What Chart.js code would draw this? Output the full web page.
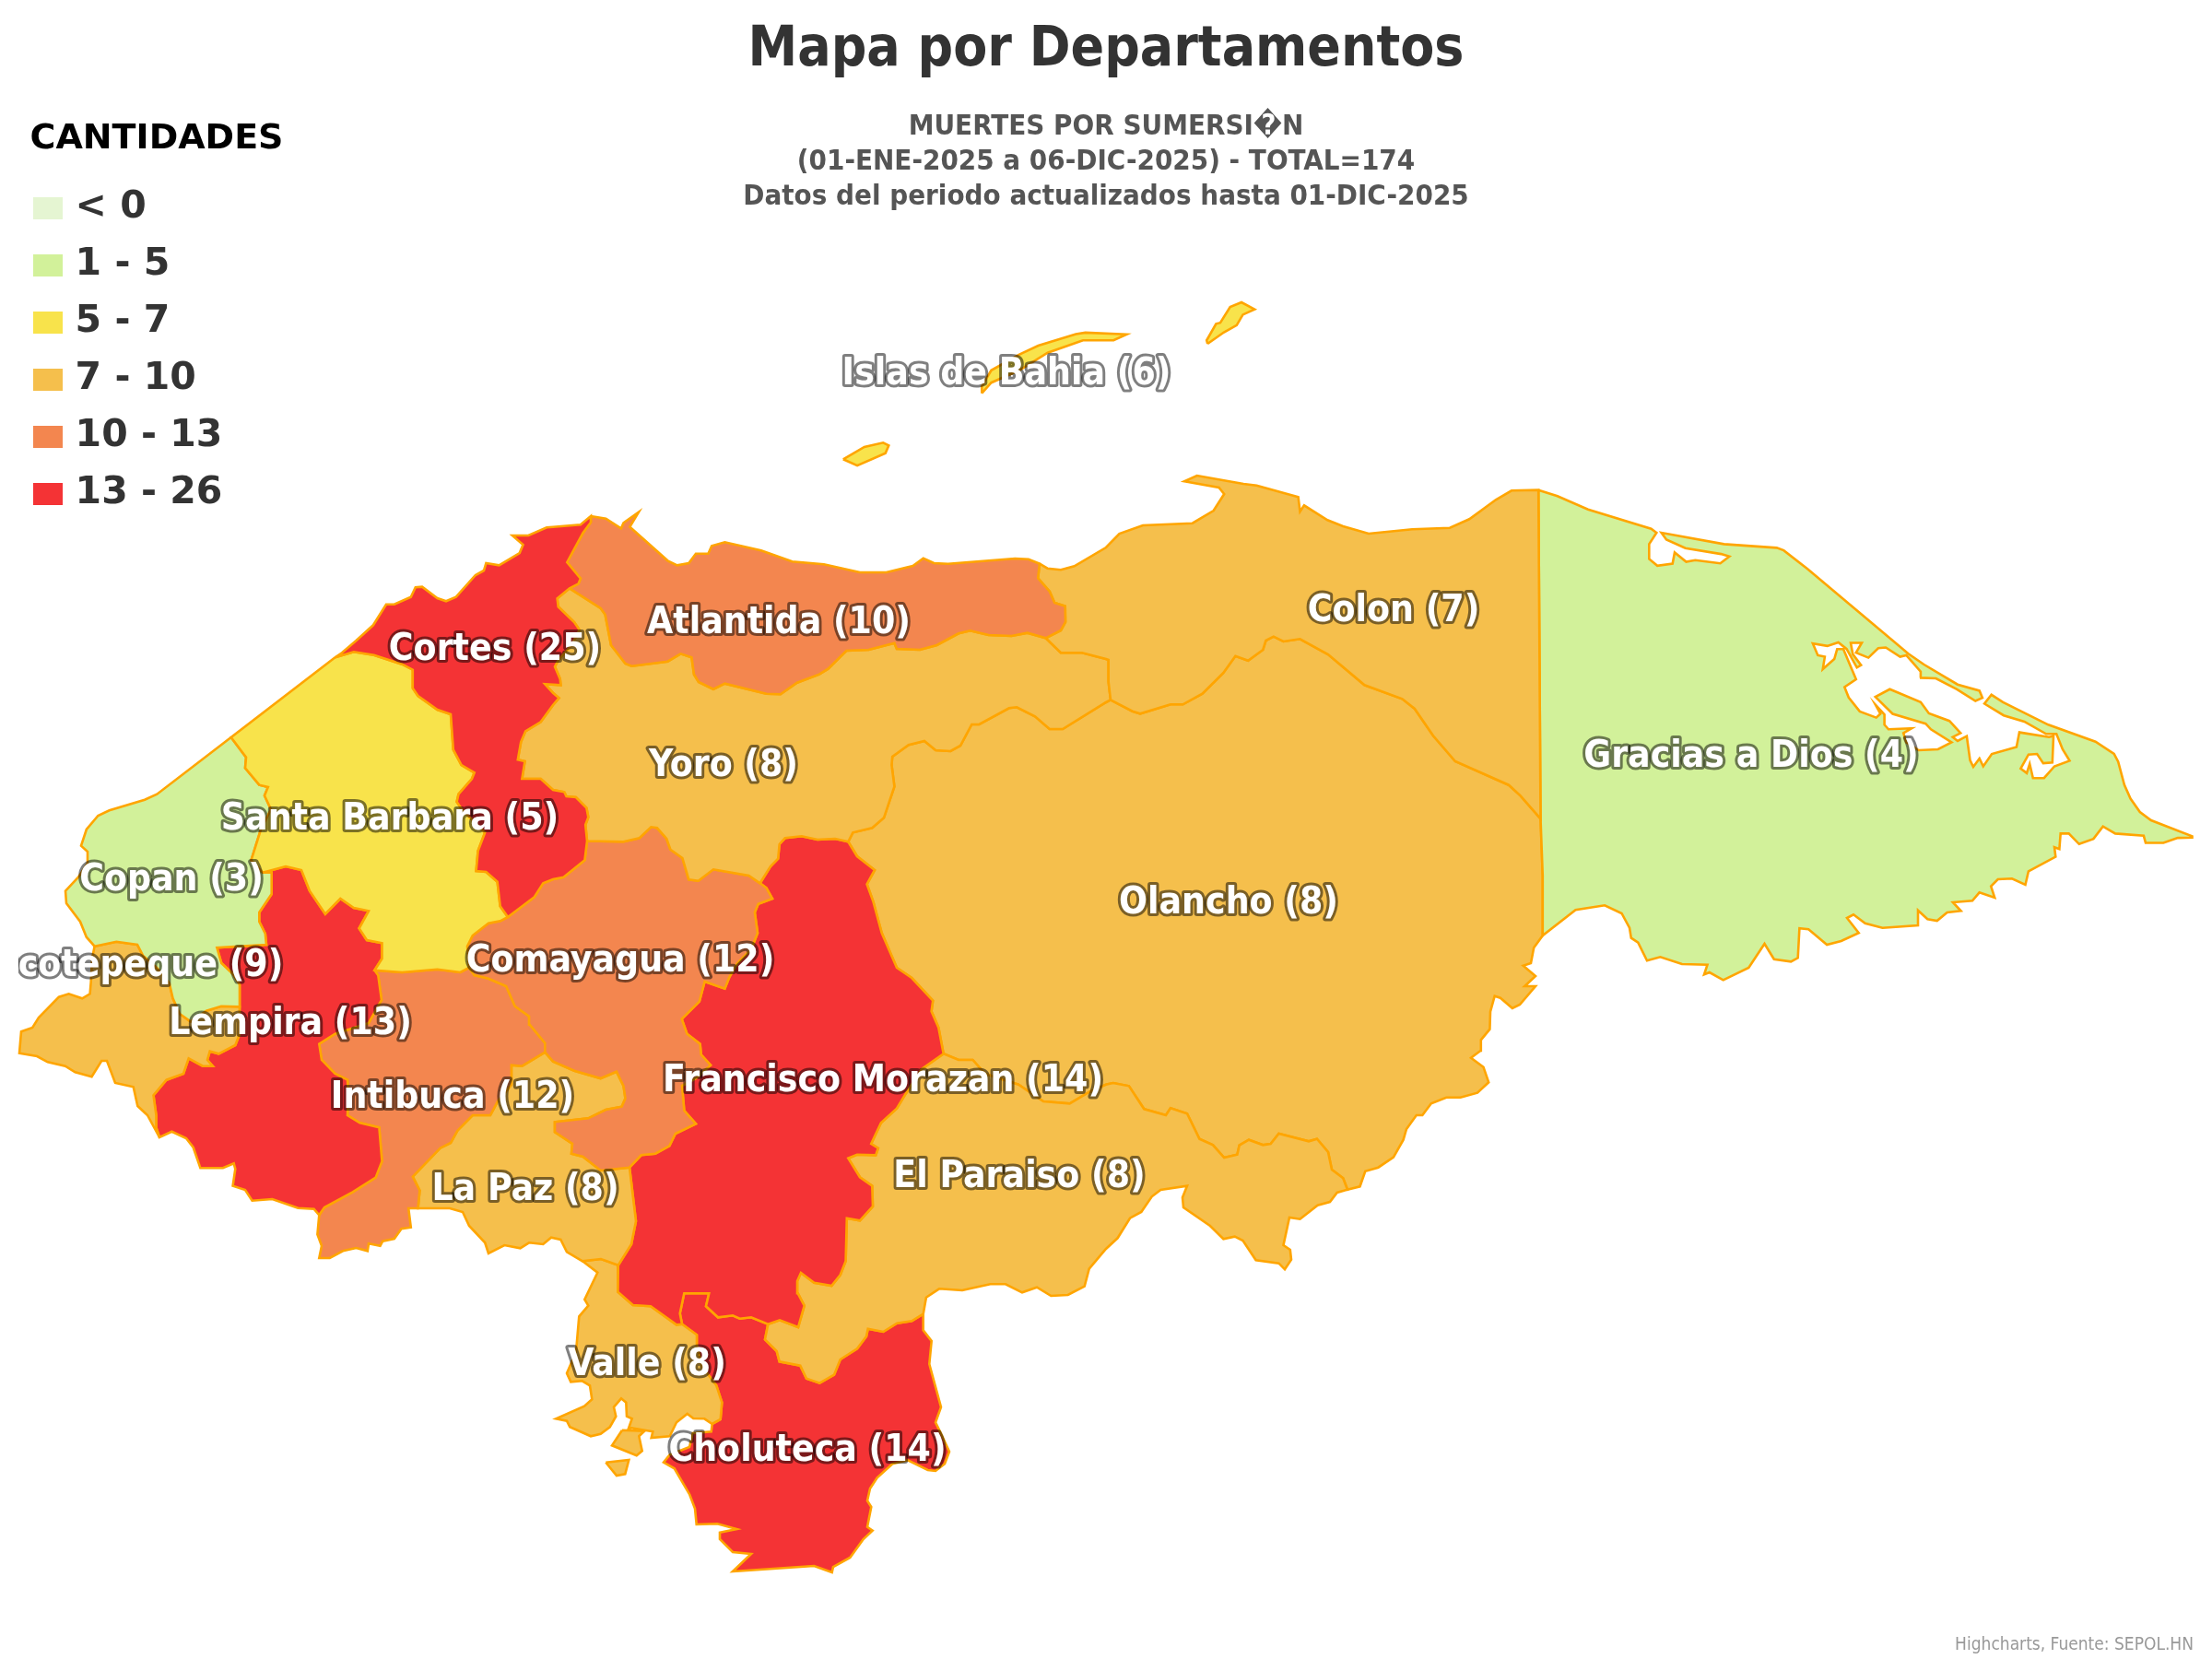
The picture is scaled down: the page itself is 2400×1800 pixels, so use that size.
<!DOCTYPE html>
<html>
<head>
<meta charset="utf-8">
<title>Mapa por Departamentos</title>
<script src="https://cdn.jsdelivr.net/npm/chart.js@4"></script>
<style>
    html, body { margin: 0; padding: 0; background: #fff; }
    canvas { display: block; }
</style>
</head>
<body>
<canvas id="myChart" width="2400" height="1800"></canvas>
<script>
// map values
const departments = ['Islas de Bahia', 'Cortes', 'Atlantida', 'Colon', 'Yoro', 'Gracias a Dios', 'Santa Barbara', 'Copan', 'Ocotepeque', 'Lempira', 'Comayagua', 'Intibuca', 'La Paz', 'Francisco Morazan', 'El Paraiso', 'Olancho', 'Valle', 'Choluteca'];
const counts = [6, 25, 10, 7, 8, 4, 5, 3, 9, 13, 12, 12, 8, 14, 8, 8, 8, 14];
const labelX = [1092, 537, 845, 1512, 785, 1900, 423, 186, 148, 315, 673, 491, 570, 958, 1106, 1333, 702, 876];
const labelY = [406, 705, 676, 663, 831, 821, 889, 955, 1048, 1111, 1043, 1191, 1291, 1173, 1277, 980, 1481, 1574];

const rangeLabels = ['< 0', '1 - 5', '5 - 7', '7 - 10', '10 - 13', '13 - 26'];
const rangeFrom = [-Infinity, 1, 5, 7, 10, 13];
const rangeColors = ['#e5f5d2', '#d2f19a', '#f8e34b', '#f5bf4c', '#f3864f', '#f43335'];

const titleText = 'Mapa por Departamentos';
const subtitleLines = ['MUERTES POR SUMERSI\uFFFDN', '(01-ENE-2025 a 06-DIC-2025) - TOTAL=174', 'Datos del periodo actualizados hasta 01-DIC-2025'];
const creditText = 'Highcharts, Fuente: SEPOL.HN';

// shared borders between departments
const copanCoast = [[250.7,800],[170.3,861.7],[157,867.7],[118.6,879.3],[106.4,885],[93.8,900],[88,917.7],[95,924],[95,936.7],[85,951.7],[71,966.7],[72,980],[87,1000],[93.8,1016.7],[102.6,1026.7]];
const copanSB = [[250.7,800],[267,821.7],[266,833.3],[281.3,851.7],[290.8,854],[287,863.3],[294,878.3],[283,900],[272.5,933.3],[285,946.7]];
const copanOcot = [[102.6,1026.7],[126.3,1021.7],[149,1025],[155,1036.7],[170,1050],[183.7,1066.7],[187.5,1083],[195,1100],[206.7,1108.3],[224,1096.7],[240,1091.7],[260,1092.3]];
const copanLemp = [[285,946.7],[294.7,946.7],[294.7,970],[281.3,990],[281.3,1000],[287.8,1013],[289,1025],[235.4,1028.3],[240.3,1045],[252.6,1056.7],[260,1068.3],[260,1092.3]];
const ocotLemp = [[260,1092.3],[259.5,1123.3],[255.3,1134],[237.3,1143.3],[227.7,1140.7],[225,1150],[230.8,1156.7],[220,1156.7],[204.7,1148.3],[199,1165],[180.6,1171.7],[166.5,1188.3],[169.5,1210],[169.5,1223.3],[173,1234]];
const ocotCoast = [[173,1234],[160,1210],[149.3,1200],[144.7,1179.3],[125,1175],[116,1151],[110.2,1151],[99.5,1168.3],[81.5,1163.3],[70.8,1156.7],[51.7,1152.3],[40.2,1146],[21,1142.7],[23,1119.3],[35.2,1115],[42,1104],[63.9,1081.7],[74.6,1078.3],[89.2,1083.3],[97.6,1078.3],[98.7,1065],[100,1040],[102.6,1026.7]];
const lempCoast = [[173,1234],[186.4,1227.7],[202,1235],[209.7,1245],[217.4,1267.3],[241.9,1267.3],[253.7,1262.3],[255.3,1268.3],[252.6,1286.7],[266,1291],[273.6,1302.7],[295.4,1301],[323.4,1310.7],[340.6,1311.7],[346.3,1318.3]];
const lempInti = [[406.4,1052.7],[410.3,1058.3],[414,1085],[400,1110],[363.6,1121.7],[346.3,1132.7],[349,1150],[363.6,1165],[377,1171.7],[378,1190],[377,1210],[390.4,1218.3],[411.4,1223.3],[414.5,1260],[407.6,1277.7],[382.7,1293.3],[352,1310],[346.3,1318.3]];
const sbLemp = [[285,946.7],[310,940],[327,944],[336,966.7],[352.9,991.7],[369.3,975],[383.8,985],[400,988.3],[389.6,1007.3],[398,1020],[414.5,1023.3],[414.5,1040],[406.4,1052.7]];
const sbInti = [[406.4,1052.7],[436.3,1055],[474.5,1051.7],[499.4,1055],[509,1050]];
const sbComa = [[509,1050],[507,1026.7],[512.8,1015],[530,1001.7],[542.7,999.3],[551,995]];
const sbCortes = [[363.6,713.3],[383.8,707.3],[405.7,710.7],[436.3,720.7],[447.8,726.7],[447.8,746.7],[453.5,755],[474.5,770],[489,775],[491.8,813.3],[500.6,830],[514.7,838.3],[512,845],[497.5,861.7],[495.6,870],[501.3,878.3],[526.2,903.3],[518.6,923.3],[516.6,945],[527.4,946],[539.6,956.7],[542.7,983.3],[551,995]];
const cortesCoast = [[363.6,713.3],[371,708.3],[386.5,695],[404.9,678.3],[419,655.7],[427.8,655.7],[445.8,647.7],[450.8,637.3],[458,636.7],[474.5,649],[484,652.3],[494.8,647.7],[515.9,624],[525,619],[527.4,611],[541.5,613.3],[563.7,600],[567.5,591],[556,581],[573.3,581],[593.2,572.3],[600,571.7],[629.9,569.3],[641,560]];
const cortesAtl = [[641,560],[641,566.7],[632.5,578.3],[615.3,610],[629.9,627.7],[627.6,633.3],[618,638.3]];
const cortesYoro = [[618,638.3],[604.6,649.3],[605.7,658.3],[623,675],[628.7,683.3],[620,700],[606,716],[602,723.3],[607.7,736.7],[608.4,743.3],[591.3,742.3],[600,751.7],[606.5,757.3],[600,765],[586.7,783.3],[570.2,793.3],[565.2,805],[561.8,824.3],[569.5,826],[566.4,845],[586.7,845],[600,857],[612.2,859.3],[614.5,864],[624.9,865],[636.4,876.7],[638.3,886.7],[635.2,895],[637,912.5]];
const cortesComa = [[551,995],[579.8,973.3],[589.3,958.3],[600,954],[611.5,951.7],[634.4,933.3],[637,912.5]];
const atlCoast = [[641,560],[657.4,562.7],[673.9,573.3],[676.5,567.3],[693,555.7],[683.4,571.7],[724.4,608.3],[734.7,613.3],[747.3,611],[755,600.7],[768.4,600.7],[772.2,592.3],[786.4,588.3],[825.8,597.3],[859.5,609.3],[893.9,612.3],[933,621],[961.6,621],[990.4,614],[1001.8,605.7],[1013.3,611],[1028.6,611.7],[1101.3,606],[1115.9,606.7],[1128,611.7]];
const atlEast = [[1128,611.7],[1126.2,627.3],[1138.8,641.7],[1144.2,654],[1155.7,657.7],[1156,675],[1151,684],[1134.6,692.3]];
const atlYoro = [[1134.6,692.3],[1114.7,686.7],[1097.5,690],[1072.6,689],[1052.7,684.3],[1040,687.3],[1016.4,700],[998,705],[973,704],[970.4,697.7],[942.5,705],[918.4,706],[898.5,725.7],[888.9,731.7],[864.8,740.7],[846.8,753.3],[831.5,752.7],[786.4,741.7],[774,747.7],[758,740],[753,731.7],[750.4,713.3],[738.5,709.3],[724.4,717.7],[685.3,722.7],[678.5,720],[663,700],[656.6,666.7],[651.7,660],[618,638.3]];
const yoroColon = [[1134.6,692.3],[1151,708.3],[1174,708.3],[1200,715],[1202.7,716],[1202.7,740],[1205,759.3]];
const yoroOlan = [[1205,759.3],[1200,762],[1153,791],[1138.8,791],[1123,777.3],[1103.2,767.3],[1094.8,768.3],[1062.3,786],[1054.3,786],[1042,809],[1031.3,815],[1015.2,814],[1003,804],[985.8,808.3],[968.2,821],[967.4,830],[970.4,853.3],[959,887.3],[946.3,898.3],[925.3,903.3],[920.3,913.3]];
const yoroFM = [[920.3,913.3],[906,910],[887,911],[869.8,907.3],[851.8,909.3],[845.7,916],[844.2,931.7],[836,940],[824.6,958.3]];
const yoroComa = [[824.6,958.3],[812.4,950],[774,943.3],[757.7,955.7],[747.3,954.3],[740.4,931],[727.4,921.7],[723.2,910],[712.9,898.3],[706.4,897.3],[693.8,909.3],[676.5,913.3],[637,912.5]];
const fmComa = [[824.6,958.3],[831.5,963.3],[838,975],[822.7,980.7],[818.9,990],[822,1012.3],[815,1030],[800,1045],[791.4,1060],[786.4,1072.7],[764.6,1065],[758.8,1086.7],[739.7,1105.7],[745.4,1121.7],[759.6,1132.7],[760.7,1144.3],[771,1155.7],[755,1170],[740,1178],[742.4,1205],[755,1219.3],[732.8,1230],[726.3,1243.3],[711,1251.7],[695.7,1253.3],[683,1266.7]];
const fmLaPaz = [[683,1266.7],[690,1325],[685,1350],[670.8,1372.7]];
const fmValle = [[670.8,1372.7],[670,1401.7],[686.7,1416],[706,1417.3],[734,1437.3],[740,1436.7]];
const fmChol = [[740,1436.7],[737.7,1425],[742.3,1403.3],[769.3,1403.3],[766,1417.3],[779,1429.3],[795,1427.3],[802.7,1430.7],[815,1429.3],[833.3,1436.7]];
const fmPar = [[833.3,1436.7],[846,1432.3],[866,1440],[872.7,1416.7],[865.7,1403.3],[865,1390],[869,1381],[883.3,1391.7],[902.3,1395],[911.7,1383.3],[917.6,1368.3],[918.8,1321.7],[933,1324.3],[947,1309],[946.3,1286.7],[933,1277.3],[920.3,1256.7],[929.9,1252.7],[950.2,1253.3],[952.8,1245.7],[945.2,1241],[955.9,1218.3],[973,1202.7],[982.7,1186.7],[1000,1160],[1023.7,1143.3]];
const fmOlan = [[1023.7,1143.3],[1018.3,1115],[1010.6,1097.3],[1012.2,1085.7],[989.2,1061],[973,1050],[956.7,1012.3],[947.5,978.3],[940.6,959.3],[949,944],[929.9,929],[920.3,913.3]];
const comaLaPaz = [[683,1266.7],[651.7,1270],[632.5,1255],[620,1251.7],[621,1241],[602,1228.3],[602,1217.3],[638.3,1213.3],[657.4,1204],[674.6,1200.7],[678.5,1191.7],[676.5,1178.3],[668.9,1162.7],[651.7,1170],[623,1161.7],[600,1151.7],[591.3,1141.7]];
const comaInti = [[509,1050],[514.7,1058],[530,1061.7],[549.2,1070],[558.7,1091.7],[574,1102.7],[574.8,1111.7],[591.3,1131.7],[591.3,1141.7]];
const intiLaPaz = [[591.3,1141.7],[566.4,1156.7],[554.9,1155.7],[554.9,1176.7],[540,1195],[532,1210],[512.8,1210],[496.4,1226.7],[489,1240],[477.6,1245.7],[447.8,1276.7],[455.4,1291.7],[453.5,1311]];
const intiCoast = [[346.3,1318.3],[344.4,1339.3],[349,1351.7],[346.3,1365],[357.8,1365],[372,1357.3],[386.5,1354],[398.8,1357.3],[400,1349.3],[412.5,1351.7],[415.2,1346.7],[427.8,1344],[435.5,1333.3],[445.8,1331.7],[443.2,1311],[453.5,1311]];
const laPazCoast = [[453.5,1311],[488,1311],[502,1315],[509,1330],[526.2,1348.3],[530,1360],[547.3,1351],[564.5,1354.3],[574,1348.3],[589.3,1350],[598,1342.7],[608.3,1345],[615,1358.3],[632,1368.3]];
const laPazValle = [[632,1368.3],[652,1366],[670.8,1372.7]];
const valleChol = [[740,1436.7],[756,1448.3],[756,1460],[762,1483],[777.3,1503.3],[783.3,1521.7],[781.7,1540]];
const valleCoast = [[781.7,1540],[772.7,1545],[764.3,1539.3],[752.3,1539],[745.7,1534],[734,1543.3],[726.7,1558.3],[706.7,1560],[708.3,1553.3],[685,1549.3],[681.7,1550.7],[685.7,1539.3],[680,1536.7],[679.3,1521.7],[674,1517.3],[666,1526.7],[668.3,1536.7],[661.7,1548.3],[651.7,1555.7],[641,1558.3],[618.3,1548.3],[615,1541.7],[603.3,1539.3],[634,1525.7],[642.3,1518.3],[640,1503.3],[631.7,1498.3],[619.3,1499.3],[615,1490],[625,1466.7],[628.3,1428.3],[638.3,1416.7],[634.3,1410],[648.3,1380.7],[632,1368.3]];
const valleIslandA = [[675,1551.7],[664,1568.3],[690.7,1579.3],[696.7,1574.3],[693.3,1558.3],[699.3,1552.7],[675,1551.7]];
const valleIslandB = [[657.3,1586.7],[682.3,1584],[678.3,1599.3],[669,1601],[657.3,1586.7]];
const cholPar = [[833.3,1436.7],[830,1453.3],[842.7,1466],[845.7,1477.3],[868.3,1481.7],[875,1495.7],[889.3,1500.7],[905,1491.7],[911.7,1475],[930,1463.3],[940,1450],[941.7,1441.7],[958.3,1445],[973.3,1435.7],[989.3,1433.3],[1001.7,1425.7]];
const cholCoast = [[1001.7,1425.7],[1001.7,1443.3],[1010.7,1455],[1008.3,1480],[1021,1526.7],[1015,1543.3],[1020,1553.3],[1030,1575],[1025,1588.3],[1015,1596],[1006.7,1595],[985,1584.3],[968.3,1588.3],[951.7,1603.3],[944,1615],[941,1628.3],[945.3,1635],[941,1656.7],[946.7,1660.7],[936.7,1670],[922.3,1690],[904,1700],[902.7,1706],[883.3,1699],[795,1705],[815,1686],[795,1684],[781,1670],[781,1662.7],[799.3,1659],[778.3,1653.3],[755.7,1654],[754,1636.7],[748.3,1621.7],[731.7,1593.3],[720,1586.7],[726.7,1578.3],[748,1570],[751.7,1555],[771.7,1553.3],[772.7,1545],[781.7,1540]];
const olanPar = [[1023.7,1143.3],[1040,1150],[1055.4,1150],[1068.8,1165],[1105,1176.7],[1132,1195],[1160.6,1197.3],[1181.7,1185],[1200,1176.7],[1207.7,1175],[1224.9,1178.3],[1241.3,1203.3],[1265,1210],[1270,1202.3],[1288,1208.3],[1301.4,1235.7],[1316,1242.3],[1328.2,1256],[1342.4,1252.7],[1344.7,1242.7],[1355,1236.7],[1370.3,1242.3],[1378.7,1241],[1387.5,1230],[1420,1238.3],[1428.9,1235.7],[1441,1250],[1445,1269],[1457.2,1278.3],[1462,1290.7]];
const parCoast = [[1462,1290.7],[1450.7,1294],[1443,1304],[1429.6,1307.7],[1410.5,1322.7],[1399,1321],[1392.5,1351],[1399.8,1356],[1401,1366.7],[1394,1377.3],[1387.5,1370.7],[1362.6,1367.3],[1348.5,1346],[1339.7,1341.7],[1327.4,1344.3],[1312.9,1330],[1284,1310],[1283,1299.3],[1288,1286.7],[1259.3,1291],[1249.7,1298.3],[1238.3,1315],[1226,1321.7],[1212.6,1343.3],[1200,1355],[1181.7,1376.7],[1176.7,1395.7],[1158.7,1405],[1140.4,1406],[1125,1396.7],[1109,1402.3],[1091,1393.3],[1074.5,1393.3],[1044,1400],[1019,1398.3],[1004.9,1407.7],[1001.7,1425.7]];
const olanCoast = [[1673.8,1015],[1664.2,1028.3],[1661,1045],[1652.7,1047.7],[1666,1059],[1654.3,1070],[1666,1070],[1649,1090],[1640.9,1094],[1627.9,1082.7],[1621.7,1080.7],[1617,1097.7],[1616.4,1116.7],[1606.8,1128.3],[1606.4,1140],[1596,1147.7],[1609.5,1157.7],[1615.2,1174.3],[1603,1185.7],[1584.6,1190.7],[1569.3,1190.7],[1552.8,1197.3],[1543.3,1210],[1536.8,1210],[1526,1225],[1522.6,1236.7],[1511.9,1255.7],[1495.4,1266.7],[1481.3,1270.7],[1475.5,1287.3],[1462,1290.7]];
const colonCoast = [[1128,611.7],[1136.5,616.7],[1151,618.3],[1165.6,614.3],[1200,594],[1214.5,579],[1240,570],[1293.8,567.7],[1316.7,554],[1328.2,536],[1322.5,529],[1285,522.3],[1298.7,516],[1349.2,525],[1363.4,526.7],[1408.6,539.3],[1410.5,555],[1415,548.3],[1440.3,564.3],[1457.2,571],[1485,579],[1532.2,574.3],[1573,572.7],[1594.2,563.3],[1622.9,542.3],[1640,532.3],[1669.2,531.7]];
const colonGD = [[1669.2,531.7],[1671.5,888.3]];
const colonOlan = [[1205,759.3],[1228.7,771.7],[1237.1,774.3],[1270,764.3],[1283.4,764.3],[1304.5,752.7],[1327.4,730],[1340.4,711.7],[1354.2,716.7],[1370.3,705],[1373.4,695],[1381.8,690.7],[1392.5,696],[1410.5,693.3],[1441,710],[1480.5,743.3],[1521.5,758.3],[1534.9,769],[1555,798.3],[1578.9,826],[1637,851.7],[1649.7,863.3],[1671.5,888.3]];
const olanGD = [[1671.5,888.3],[1673.8,950],[1673.8,1015]];
const gdCoast = [[1669.2,531.7],[1689.8,538.3],[1723,552.7],[1791.5,573.7],[1797.3,578],[1789.3,590.4],[1789.3,606.5],[1798.2,613.8],[1814.7,611.5],[1817,599.4],[1829.5,609.5],[1839.3,607.8],[1866.5,611.2],[1876.3,603.8],[1867.4,601.1],[1828.6,594.7],[1808,585.4],[1802.7,578],[1870.5,590.4],[1927.7,594.4],[1935.3,597.1],[1961.1,617.2],[2070.5,709.3],[2087.5,721],[2124,742.7],[2147.7,749.4],[2150.9,757.1],[2143.3,760.5],[2123.2,747.8],[2100.4,736],[2083,735.4],[2083.9,728.7],[2068.3,710.9],[2061.6,712.6],[2046,702.5],[2037.9,703.2],[2027.2,713.6],[2013.8,708.2],[2020,697.5],[2008,697.5],[2010.3,709.9],[2019.2,721.6],[2014.7,724.3],[2003.6,704.2],[1994.6,696.9],[1982.6,700.9],[1966.9,698.2],[1972.3,710.9],[1979.9,712.6],[1977.7,726],[1990.2,715],[1993.3,704.2],[2000,704.2],[2013.8,737],[2001.3,745.4],[2005.8,756.8],[2017.8,771.9],[2035.7,778.6],[2040.2,774.5],[2034.8,764.5],[2044.6,775.2],[2044.6,786.3],[2049,791.3],[2074,790.3],[2065.2,795.3],[2068.3,805.3],[2081.7,814],[2102.7,813],[2117.4,805.3],[2095,791.3],[2089.3,785.2],[2053.5,774.5],[2034.8,756.1],[2050.4,747.8],[2083.9,761.8],[2092.8,773.9],[2115.1,782.2],[2127.2,795.3],[2118.7,799.7],[2124,803.9],[2133.9,798.7],[2137.5,824.8],[2141,832],[2147.7,823],[2151.8,831.5],[2161.1,818],[2187.9,810.4],[2191,794.6],[2223.2,799.7],[2228,798.6],[2226.8,827.4],[2216.9,828.1],[2210.2,818],[2200.9,818.7],[2192.4,833.8],[2199,838.8],[2202.2,828.8],[2205.8,844.2],[2217.8,844.2],[2229,831.5],[2245.5,825.4],[2237.9,813],[2231.2,796.3],[2220,796.3],[2196.4,782.9],[2174,776.2],[2153.1,763.5],[2160.7,753.8],[2173.2,761.8],[2222.3,786.3],[2273.6,804.7],[2293.7,818],[2298.2,826.4],[2304.9,851.5],[2311.6,866.6],[2321.8,881],[2333.9,890],[2378.5,907.4],[2378.5,908.8],[2362.9,909.1],[2347.3,914.5],[2328,914.5],[2325.9,906.8],[2295,904.4],[2281.7,896.7],[2271.4,910.1],[2255.8,915.8],[2244.6,904.4],[2235.7,904.4],[2234.4,921.2],[2229,919.2],[2230.3,929.6],[2200.9,945.3],[2197.5,960],[2183,953.3],[2167.7,954],[2160.2,961.7],[2164.2,974],[2147.6,968.3],[2140,977.3],[2118.9,979],[2127.5,988.3],[2112.6,990],[2101.7,999],[2091.3,997.3],[2081,987.7],[2081,1004],[2042.5,1006.7],[2023.6,1001.7],[2011,992.3],[2004,996],[2016.7,1012.3],[1997.7,1021],[1982.2,1025],[1962.2,1008.3],[1952.4,1007.3],[1950.7,1039.3],[1943.2,1043.3],[1924.8,1040.7],[1914.5,1024],[1897.3,1050],[1869.7,1063.3],[1854.8,1055],[1849,1057.3],[1852.5,1046.7],[1824.9,1046],[1801.4,1038.3],[1787,1042.3],[1777.3,1022.7],[1769.8,1017.7],[1768,1006.7],[1759.5,991],[1741.1,982.3],[1709.5,987.3],[1673.8,1015]];
const utila = [[914.8,498.3],[937.8,484.9],[958.2,480.3],[964.3,483.3],[960.7,491.8],[930.1,505.2],[914.8,498.3]];
const roatan = [[1065.3,426.7],[1065.3,419],[1075.5,401.8],[1106,384.6],[1126.5,375],[1167.3,362.4],[1177.6,360.9],[1222.4,362.8],[1208.2,369.3],[1175,369.3],[1136.7,382.7],[1106,401.8],[1075.5,415.2],[1065.3,426.7]];
const guanaja = [[1310.2,373],[1309.2,369.3],[1319.4,351.3],[1324,350.2],[1334.7,333],[1347,328],[1361.2,335.6],[1348.5,341.4],[1341.8,352.8],[1328,360.5],[1310.2,373]];

function rev(a) {
    return a.slice().reverse();
}

// each department is a list of rings, a ring is a list of borders walked in order
const shapes = {
    'Islas de Bahia': [[utila], [roatan], [guanaja]],
    'Cortes': [[cortesCoast, cortesAtl, cortesYoro, rev(cortesComa), rev(sbCortes)]],
    'Atlantida': [[atlCoast, atlEast, atlYoro, rev(cortesAtl)]],
    'Colon': [[colonCoast, colonGD, rev(colonOlan), rev(yoroColon), rev(atlEast)]],
    'Yoro': [[cortesYoro, rev(yoroComa), rev(yoroFM), rev(yoroOlan), rev(yoroColon), atlYoro]],
    'Gracias a Dios': [[gdCoast, rev(olanGD), rev(colonGD)]],
    'Santa Barbara': [[sbCortes, rev(sbComa), rev(sbInti), rev(sbLemp), rev(copanSB), [[363.6,713.3]]]],
    'Copan': [[copanCoast, copanOcot, rev(copanLemp), rev(copanSB)]],
    'Ocotepeque': [[copanOcot, ocotLemp, ocotCoast]],
    'Lempira': [[copanLemp, ocotLemp, lempCoast, rev(lempInti), rev(sbLemp)]],
    'Comayagua': [[cortesComa, rev(yoroComa), fmComa, comaLaPaz, rev(comaInti), sbComa]],
    'Intibuca': [[sbInti, comaInti, intiLaPaz, rev(intiCoast), rev(lempInti)]],
    'La Paz': [[rev(comaLaPaz), fmLaPaz, rev(laPazValle), rev(laPazCoast), rev(intiLaPaz)]],
    'Francisco Morazan': [[yoroFM, fmComa, fmLaPaz, fmValle, fmChol, fmPar, fmOlan]],
    'El Paraiso': [[olanPar, parCoast, rev(cholPar), fmPar]],
    'Olancho': [[yoroOlan, rev(fmOlan), olanPar, rev(olanCoast), rev(olanGD), rev(colonOlan)]],
    'Valle': [[laPazValle, fmValle, valleChol, valleCoast], [valleIslandA], [valleIslandB]],
    'Choluteca': [[fmChol, cholPar, cholCoast, rev(valleChol)]]
};

const fontFamily = "'DejaVu Sans Condensed', 'DejaVu Sans', sans-serif";
const legendFamily = "'DejaVu Sans', sans-serif";
const borderColor = '#ffa500';

function colorFor(count) {
    let idx = 0;
    rangeFrom.forEach(function(from, i) {
        if (count >= from) idx = i;
    });
    return rangeColors[idx];
}

// legend swatch as a point style, sits a bit lower than the text like the original
function swatch(color) {
    const c = document.createElement('canvas');
    c.width = 32;
    c.height = 26;
    const g = c.getContext('2d');
    g.fillStyle = color;
    g.fillRect(0, 2, 32, 24);
    return c;
}

const datasets = [];
departments.forEach(function(name, i) {
    shapes[name].forEach(function(ring) {
        datasets.push({
            label: name,
            data: ring.flat().map(function(p) { return { x: p[0], y: p[1] }; }),
            showLine: true,
            fill: 'shape',
            tension: 0,
            pointRadius: 0,
            pointHoverRadius: 0,
            borderWidth: 2.6,
            borderColor: borderColor,
            backgroundColor: colorFor(counts[i])
        });
    });
});

// the legend sits over the left of the title block, not inside the map area
const legendMover = {
    id: 'legendMover',
    afterLayout(chart) {
        const legend = chart.legend;
        legend.left = 21.9;
        legend.width = 296.2;
        legend.right = legend.left + legend.width;
        legend.top = 119;
        legend.bottom = 619;
        legend.height = 500;
        legend.adjustHitBoxes();
    }
};

const deptLabels = {
    id: 'deptLabels',
    afterDatasetsDraw(chart) {
        const ctx = chart.ctx;
        const xs = chart.scales.x;
        const ys = chart.scales.y;
        ctx.save();
        ctx.beginPath();
        ctx.rect(20, 0, 2380, 1800);
        ctx.clip();
        ctx.font = 'bold 40.5px ' + fontFamily;
        ctx.textAlign = 'center';
        ctx.textBaseline = 'middle';
        ctx.lineJoin = 'round';
        departments.forEach(function(name, i) {
            const text = name + ' (' + counts[i] + ')';
            const x = xs.getPixelForValue(labelX[i]);
            const y = ys.getPixelForValue(labelY[i]);
            ctx.lineWidth = 6;
            ctx.strokeStyle = 'rgba(0,0,0,0.5)';
            ctx.strokeText(text, x, y);
            ctx.fillStyle = '#fff';
            ctx.fillText(text, x, y);
        });
        ctx.restore();

        ctx.save();
        ctx.font = '19px ' + fontFamily;
        ctx.fillStyle = '#999';
        ctx.textAlign = 'right';
        ctx.textBaseline = 'alphabetic';
        ctx.fillText(creditText, 2380, 1790);
        ctx.restore();
    }
};

new Chart(document.getElementById('myChart'), {
    type: 'scatter',
    data: { datasets: datasets },
    options: {
        responsive: false,
        animation: false,
        devicePixelRatio: 1,
        events: [],
        layout: { padding: 0 },
        scales: {
            x: { type: 'linear', display: false, min: 0, max: 2400 },
            y: { type: 'linear', display: false, min: 240, max: 1800, reverse: true }
        },
        plugins: {
            tooltip: { enabled: false },
            title: {
                display: true,
                text: titleText,
                color: '#333',
                font: { family: fontFamily, size: 60, weight: 'bold', lineHeight: 1.2 },
                padding: { top: 19.4, bottom: 0 }
            },
            subtitle: {
                display: true,
                text: subtitleLines,
                color: '#555',
                font: { family: fontFamily, size: 31, weight: 'bold', lineHeight: 1.2258 },
                padding: { top: 27.2, bottom: 7.4 }
            },
            legend: {
                display: true,
                position: 'chartArea',
                align: 'start',
                title: {
                    display: true,
                    text: 'CANTIDADES',
                    color: '#000',
                    position: 'center',
                    font: { family: legendFamily, size: 38, weight: 'bold', lineHeight: 1.2 },
                    padding: { top: 13, bottom: 5.9 }
                },
                labels: {
                    usePointStyle: true,
                    pointStyleWidth: 18.2,
                    padding: 21,
                    color: '#333',
                    font: { family: legendFamily, size: 41, weight: 'bold', lineHeight: 1.2 },
                    generateLabels() {
                        return rangeLabels.map(function(text, i) {
                            return { text: text, fontColor: '#333', pointStyle: swatch(rangeColors[i]), lineWidth: 0, hidden: false, index: i };
                        });
                    }
                }
            }
        }
    },
    plugins: [legendMover, deptLabels]
});
</script>
</body>
</html>
